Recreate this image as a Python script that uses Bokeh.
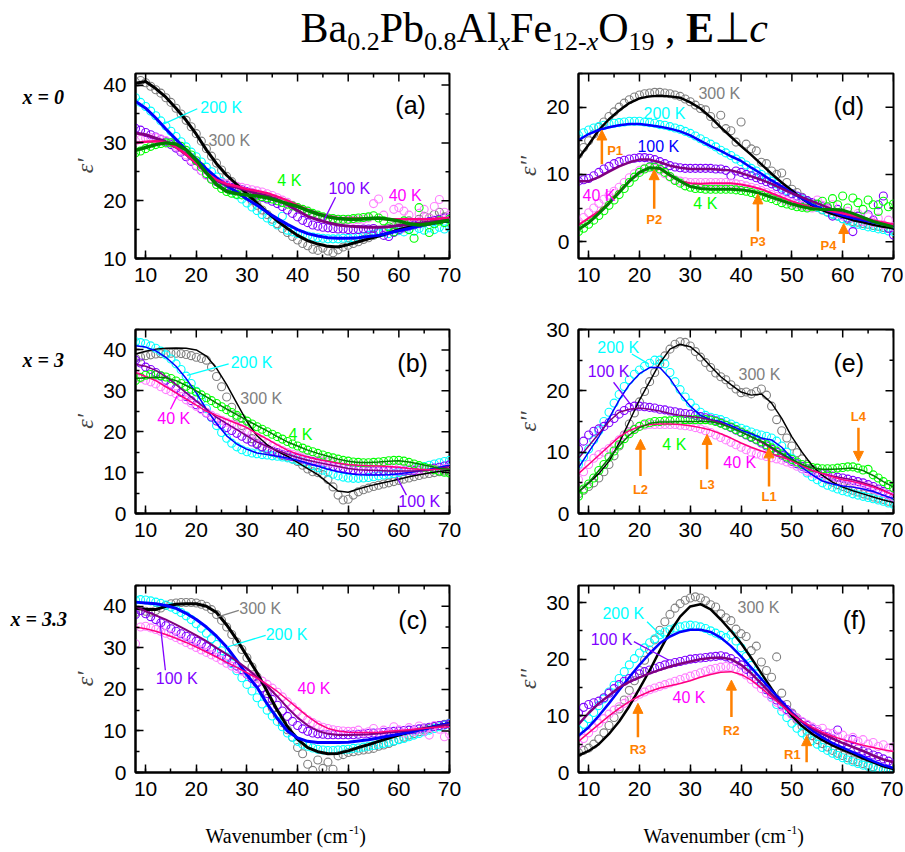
import math
from bokeh.plotting import figure
from bokeh.layouts import column, row
from bokeh.models import Label, Arrow, NormalHead, SingleIntervalTicker, Range1d
from bokeh.embed import file_html
from bokeh.resources import INLINE

# ---------------- data (wavenumber in cm^-1) ----------------
X_DATA = [8, 9, 10, 11, 12, 13, 14, 15, 16, 17, 18, 19, 20, 21, 22, 23, 24, 25, 26, 27,
          28, 29, 30, 31, 32, 33, 34, 35, 36, 37, 38, 39, 40, 41, 42, 43, 44, 45, 46, 47,
          48, 49, 50, 51, 52, 53, 54, 55, 56, 57, 58, 59, 60, 61, 62, 63, 64, 65, 66, 67,
          68, 69, 70]
X_FIT = [8, 10, 12, 14, 16, 18, 20, 22, 24, 26, 28, 30, 32, 34, 36, 38, 40, 42, 44, 46,
         48, 50, 52, 54, 56, 58, 60, 62, 64, 66, 68, 70]
X_MAJOR = [10, 20, 30, 40, 50, 60, 70]
X_MINOR = [15, 25, 35, 45, 55, 65]

# (a) x = 0, eps'
A_300_DATA = [40.5, 40.8, 40.4, 39.8, 39.2, 38.6, 37.8, 37.0, 36.0, 35.0,
              33.9, 32.8, 31.6, 30.3, 29.0, 27.7, 26.5, 25.3, 24.2, 23.3,
              22.4, 21.6, 20.8, 20.0, 19.2, 18.4, 17.6, 16.8, 16.0, 15.2,
              14.5, 13.8, 13.2, 12.6, 12.2, 11.6, 11.4, 11.8, 11.3, 11.0,
              11.5, 12.0, 12.3, 12.6, 12.9, 13.3, 13.6, 14.0, 14.5, 14.8,
              15.2, 15.5, 15.3, 16.0, 16.5, 16.2, 16.8, 17.3, 17.0, 17.6,
              18.0, 17.2, 17.5]
A_200_DATA = [37.8, 37.0, 36.3, 35.5, 34.7, 33.8, 32.9, 32.0, 31.1, 30.2,
              29.3, 28.4, 27.6, 26.7, 25.8, 25.0, 24.1, 23.3, 22.5, 21.8,
              21.0, 20.3, 19.6, 18.9, 18.3, 17.6, 17.0, 16.4, 15.8, 17.3,
              14.9, 14.6, 14.3, 14.1, 13.9, 13.7, 13.6, 13.5, 13.4, 13.4,
              13.4, 13.5, 13.5, 13.6, 13.7, 13.8, 14.0, 14.2, 14.4, 14.5,
              14.3, 14.6, 14.8, 14.6, 15.0, 14.7, 15.2, 14.9, 15.3, 15.0,
              15.4, 15.1, 15.5]
A_100_DATA = [32.5, 32.2, 31.8, 31.4, 31.0, 30.6, 30.2, 29.7, 29.1, 28.4,
              27.6, 26.8, 26.0, 25.2, 24.5, 23.8, 23.3, 22.9, 22.6, 22.3,
              22.1, 21.9, 21.6, 21.3, 21.0, 20.6, 20.3, 19.9, 19.5, 19.0,
              18.4, 17.8, 17.2, 16.6, 16.2, 15.8, 15.6, 15.4, 15.3, 15.2,
              15.1, 15.1, 15.0, 15.0, 15.0, 15.1, 15.1, 15.2, 14.8, 14.0,
              13.8, 14.5, 15.0, 15.3, 15.6, 15.8, 16.0, 16.2, 16.4, 16.6,
              16.8, 17.0, 17.1]
A_40_DATA = [30.3, 30.6, 30.8, 30.9, 30.9, 30.7, 30.4, 30.0, 29.4, 28.7,
             27.9, 27.0, 26.1, 25.2, 24.4, 23.8, 23.4, 23.1, 22.9, 22.7,
             22.5, 22.3, 22.1, 21.9, 21.7, 21.5, 21.2, 20.9, 20.5, 20.1,
             19.7, 19.2, 18.8, 18.4, 18.0, 17.6, 17.3, 17.1, 16.9, 16.8,
             16.7, 16.7, 16.6, 16.6, 16.7, 16.8, 17.0, 19.5, 20.3, 17.5,
             15.0, 18.5, 18.8, 18.2, 17.5, 16.0, 17.8, 18.5, 17.0, 19.0,
             20.2, 18.0, 17.5]
A_4_DATA = [28.3, 28.6, 29.0, 29.4, 29.7, 29.9, 30.0, 30.0, 29.8, 29.4,
            28.7, 27.9, 26.9, 25.8, 24.7, 23.7, 22.8, 22.1, 21.6, 21.3,
            21.1, 21.0, 20.9, 20.9, 20.8, 20.7, 20.5, 20.3, 20.0, 19.7,
            19.4, 19.1, 18.8, 18.5, 18.2, 17.8, 17.5, 17.2, 17.0, 16.9,
            16.8, 16.8, 16.8, 16.9, 17.0, 17.1, 17.2, 17.4, 17.0, 16.5,
            15.5, 14.6, 15.8, 16.5, 15.0, 13.5, 18.8, 16.2, 14.5, 16.0,
            16.5, 16.2, 16.8]
A_300_FIT = [40.3, 40.6, 39.4, 37.9, 36.0, 33.9, 31.5, 28.8, 26.4, 24.4,
             22.8, 21.2, 19.6, 18.0, 16.5, 15.2, 14.0, 13.1, 12.5, 12.1,
             12.0, 12.4, 12.9, 13.4, 13.9, 14.4, 15.0, 15.4, 15.8, 16.1, 16.3, 16.5]
A_200_FIT = [37.2, 36.0, 34.3, 32.4, 30.6, 28.8, 27.2, 25.5, 24.0, 22.6,
             21.5, 20.3, 19.2, 18.0, 16.9, 15.9, 15.0, 14.3, 13.9, 13.6,
             13.5, 13.5, 13.6, 13.8, 14.0, 14.4, 14.8, 15.2, 15.6, 16.0, 16.3, 16.6]
A_100_FIT = [31.7, 31.4, 30.8, 30.2, 29.3, 28.0, 26.5, 24.8, 23.5, 22.7,
             22.3, 21.8, 21.2, 20.8, 20.2, 19.3, 18.3, 17.3, 16.7, 16.2,
             15.8, 15.6, 15.5, 15.4, 15.4, 15.5, 15.7, 15.9, 16.1, 16.3, 16.5, 16.6]
A_40_FIT = [30.0, 30.2, 30.3, 30.1, 29.3, 28.0, 26.5, 24.8, 23.6, 22.9,
            22.5, 22.0, 21.7, 21.3, 20.7, 20.0, 19.2, 18.4, 17.8, 17.3,
            17.0, 16.9, 16.9, 16.9, 16.9, 16.8, 16.8, 16.8, 16.8, 16.8, 16.9, 17.0]
A_4_FIT = [28.7, 29.2, 29.7, 30.0, 29.8, 28.8, 27.0, 24.8, 22.8, 21.6,
           21.2, 21.0, 20.8, 20.5, 20.0, 19.5, 19.0, 18.3, 17.7, 17.2,
           16.9, 16.8, 16.8, 16.9, 17.0, 16.8, 16.5, 16.0, 15.8, 16.0, 16.3, 16.6]
A_Y_MAJOR = [10, 20, 30, 40]
A_Y_MINOR = [15, 25, 35]

# (d) x = 0, eps''
D_300_DATA = [13.0, 14.0, 15.0, 16.0, 17.0, 17.8, 18.6, 19.3, 20.0, 20.6,
              21.1, 21.5, 21.8, 22.0, 22.1, 22.2, 22.2, 22.1, 22.0, 21.8,
              21.6, 21.2, 20.8, 20.3, 19.8, 19.6, 18.6, 17.5, 18.8, 16.8,
              16.5, 14.8, 17.8, 14.5, 13.8, 13.5, 11.8, 11.6, 10.5, 10.0,
              10.2, 8.8, 7.8, 7.3, 6.6, 6.1, 5.6, 5.1, 4.7, 4.4,
              4.1, 3.8, 3.4, 3.3, 3.0, 2.9, 2.7, 2.6, 2.4, 2.3,
              2.1, 2.0, 1.9]
D_200_DATA = [15.8, 16.2, 16.6, 16.9, 17.1, 17.3, 17.5, 17.6, 17.7, 17.8,
              17.9, 17.9, 17.9, 17.8, 17.7, 17.6, 17.4, 17.3, 17.1, 16.9,
              16.7, 16.4, 16.1, 15.7, 15.3, 14.9, 14.5, 14.1, 13.6, 13.2,
              12.8, 12.3, 11.9, 11.4, 10.9, 10.5, 10.0, 9.5, 9.0, 8.6,
              8.1, 7.6, 7.1, 6.7, 6.3, 5.9, 5.5, 5.1, 4.8, 4.4,
              4.1, 3.8, 3.4, 3.1, 2.8, 2.6, 2.4, 2.2, 2.1, 1.9,
              1.8, 1.6, 1.5]
D_100_DATA = [9.0, 9.2, 9.4, 9.8, 10.3, 10.8, 11.2, 11.6, 11.9, 12.1,
              12.3, 12.4, 12.5, 12.5, 12.4, 12.2, 11.9, 11.6, 11.3, 11.1,
              11.0, 10.9, 10.9, 10.9, 10.9, 10.9, 10.9, 10.8, 10.8, 10.6,
              9.8, 10.5, 10.3, 10.0, 9.8, 9.5, 9.2, 8.9, 8.6, 8.2,
              7.8, 7.4, 7.1, 6.8, 6.5, 6.1, 5.8, 5.5, 5.2, 5.0,
              3.8, 4.8, 4.0, 3.5, 1.5, 3.8, 3.0, 4.0, 3.2, 5.5,
              6.8, 2.0, 1.0]
D_40_DATA = [3.0, 3.6, 4.3, 5.0, 5.7, 6.3, 6.9, 7.5, 8.1, 8.8,
             9.5, 10.1, 10.6, 10.9, 11.0, 10.9, 10.6, 10.1, 9.6, 9.2,
             9.0, 8.9, 8.8, 8.8, 8.8, 8.8, 8.8, 8.8, 8.8, 8.8,
             8.7, 8.6, 8.5, 8.3, 8.1, 7.9, 7.6, 7.3, 7.0, 6.7,
             6.4, 6.1, 5.8, 5.6, 5.4, 5.2, 5.0, 6.2, 5.4, 4.8,
             5.5, 4.2, 3.8, 4.5, 3.5, 4.2, 3.0, 3.7, 2.8, 3.5,
             2.5, 3.2, 2.2]
D_4_DATA = [1.5, 2.0, 2.6, 3.2, 3.9, 4.6, 5.4, 6.2, 7.0, 7.9,
            8.8, 9.6, 10.3, 10.8, 11.1, 11.1, 10.8, 10.3, 9.7, 9.1,
            8.7, 8.3, 8.1, 7.9, 7.9, 7.8, 7.8, 7.8, 7.8, 7.8,
            7.8, 7.7, 7.6, 7.5, 7.3, 7.1, 6.9, 6.6, 6.4, 6.1,
            5.8, 5.6, 5.4, 5.2, 5.1, 5.0, 5.2, 5.6, 6.0, 5.2,
            6.4, 5.5, 6.8, 5.0, 6.5, 5.8, 4.8, 6.2, 5.5, 4.5,
            6.0, 5.2, 5.6]
D_300_FIT = [12.4, 14.4, 16.6, 18.2, 19.5, 20.6, 21.3, 21.6, 21.7, 21.6,
             21.4, 20.7, 19.8, 18.5, 17.0, 15.6, 14.2, 12.9, 11.5, 10.1,
             8.8, 7.6, 6.4, 5.4, 4.7, 4.1, 3.7, 3.2, 2.9, 2.5, 2.2, 2.0]
D_200_FIT = [15.1, 16.0, 16.6, 17.0, 17.3, 17.5, 17.5, 17.3, 17.1, 16.8,
             16.4, 15.8, 15.0, 14.2, 13.5, 12.7, 12.0, 11.0, 10.1, 9.1,
             8.2, 7.3, 6.4, 5.5, 4.9, 4.4, 3.9, 3.5, 3.2, 2.9, 2.6, 2.3]
D_100_FIT = [9.0, 9.0, 9.6, 10.4, 11.2, 11.8, 12.2, 12.2, 11.8, 11.3,
             11.0, 10.8, 10.8, 10.8, 10.7, 10.6, 10.2, 9.7, 9.2, 8.6,
             7.9, 7.2, 6.6, 6.0, 5.4, 4.8, 4.3, 3.8, 3.4, 3.0, 2.6, 2.3]
D_40_FIT = [2.5, 3.5, 4.5, 5.8, 7.5, 9.0, 10.3, 11.0, 10.8, 9.8,
            9.0, 8.7, 8.6, 8.7, 8.7, 8.7, 8.5, 8.2, 7.8, 7.2,
            6.6, 6.0, 5.5, 5.1, 4.8, 4.5, 4.2, 3.9, 3.6, 3.2, 2.9, 2.6]
D_4_FIT = [1.8, 2.8, 4.2, 5.7, 7.3, 9.0, 10.3, 11.0, 10.9, 9.9,
           9.0, 8.2, 7.9, 7.8, 7.8, 7.8, 7.7, 7.5, 7.1, 6.6,
           6.1, 5.6, 5.2, 4.9, 4.8, 4.8, 4.7, 4.2, 3.6, 3.0, 2.6, 2.2]
D_Y_MAJOR = [0, 10, 20]
D_Y_MINOR = [5, 15]

# (b) x = 3, eps'
B_300_DATA = [38.0, 38.3, 38.6, 38.8, 39.0, 39.1, 39.2, 39.2, 39.2, 39.1,
              38.9, 38.6, 38.2, 37.9, 37.5, 35.8, 33.5, 31.0, 28.5, 26.0,
              23.6, 21.5, 19.8, 18.3, 17.1, 16.2, 15.5, 15.0, 14.6, 14.2,
              13.8, 13.3, 12.7, 11.8, 10.9, 10.2, 10.0, 9.5, 8.3, 6.5,
              4.5, 3.3, 3.5, 4.5, 5.3, 5.8, 6.2, 6.6, 6.9, 7.2,
              7.5, 7.8, 8.1, 8.4, 8.7, 9.0, 9.3, 9.6, 9.8, 10.0,
              10.2, 10.4, 10.5]
B_200_DATA = [42.0, 41.8, 41.5, 41.0, 40.4, 39.7, 38.8, 37.8, 36.6, 35.2,
              33.6, 31.8, 29.9, 27.8, 25.6, 23.5, 21.5, 19.8, 18.4, 17.2,
              16.3, 15.6, 15.1, 14.8, 14.6, 14.4, 14.3, 14.1, 14.0, 13.8,
              13.6, 13.3, 13.0, 12.6, 12.2, 11.7, 11.2, 10.6, 10.1, 9.6,
              9.2, 8.9, 8.7, 8.6, 8.6, 8.7, 8.8, 9.0, 9.2, 9.4,
              9.6, 9.8, 10.0, 10.3, 10.6, 10.9, 11.2, 11.5, 11.8, 12.1,
              12.4, 12.7, 13.0]
B_100_DATA = [37.5, 36.8, 35.8, 35.2, 34.5, 33.6, 32.6, 31.6, 30.6, 29.6,
              28.6, 27.6, 26.6, 25.6, 24.6, 23.6, 22.6, 21.8, 21.0, 20.3,
              19.6, 18.9, 18.2, 17.5, 16.9, 16.3, 15.8, 15.3, 14.9, 14.5,
              14.2, 13.9, 13.6, 13.3, 13.0, 12.7, 12.4, 12.1, 11.8, 11.5,
              11.3, 11.1, 10.9, 10.7, 10.6, 10.5, 10.4, 10.4, 10.4, 10.4,
              10.4, 10.4, 10.4, 10.4, 10.5, 10.5, 10.6, 10.7, 10.9, 11.1,
              11.3, 11.6, 11.9]
B_40_DATA = [34.0, 33.0, 32.6, 32.2, 31.7, 31.0, 30.3, 29.8, 29.3, 28.6,
             27.8, 27.0, 26.2, 25.4, 24.7, 24.0, 23.4, 22.8, 22.3, 21.8,
             21.3, 20.7, 20.1, 19.4, 18.7, 18.0, 17.3, 16.6, 16.0, 15.4,
             14.9, 14.5, 14.1, 13.8, 13.5, 13.2, 13.0, 12.8, 12.6, 12.4,
             12.2, 12.0, 11.9, 11.8, 11.7, 11.6, 11.5, 11.5, 11.4, 11.4,
             11.3, 11.2, 11.1, 11.0, 10.9, 10.8, 10.7, 10.7, 10.7, 10.8,
             10.9, 11.0, 11.1]
B_4_DATA = [32.5, 33.3, 33.8, 34.0, 33.9, 33.7, 33.4, 33.0, 32.4, 31.8,
            31.1, 30.4, 29.7, 29.0, 28.3, 27.6, 26.9, 26.1, 25.4, 24.7,
            24.0, 23.3, 22.6, 21.9, 21.2, 20.6, 20.0, 19.4, 18.8, 18.2,
            17.6, 17.0, 16.5, 16.0, 15.5, 15.1, 14.7, 14.3, 13.9, 13.6,
            13.3, 13.0, 12.8, 12.6, 12.5, 12.4, 12.4, 12.5, 12.6, 12.7,
            12.9, 13.0, 13.0, 12.8, 12.5, 12.1, 11.7, 11.3, 11.0, 10.7,
            10.4, 10.1, 9.9]
B_300_FIT = [39.0, 39.7, 40.2, 40.4, 40.5, 40.4, 40.0, 38.5, 35.5, 31.5,
             27.0, 22.5, 19.0, 16.8, 15.2, 14.0, 12.5, 11.0, 9.5, 7.5,
             5.5, 5.2, 6.0, 6.7, 7.3, 7.8, 8.4, 9.0, 9.5, 9.9, 10.3, 10.6]
B_200_FIT = [41.0, 40.7, 39.8, 38.2, 36.0, 33.0, 29.5, 25.5, 22.0, 19.0,
             17.0, 15.7, 14.8, 14.4, 14.0, 13.6, 13.0, 12.3, 11.6, 10.8,
             10.2, 9.8, 9.5, 9.4, 9.4, 9.5, 9.7, 10.0, 10.4, 10.8, 11.3, 11.8]
B_100_FIT = [36.5, 36.0, 35.0, 33.5, 31.5, 29.5, 27.5, 25.5, 23.5, 22.0,
             20.5, 19.0, 17.5, 16.4, 15.4, 14.5, 13.7, 13.0, 12.5, 12.0,
             11.5, 11.0, 10.7, 10.6, 10.5, 10.4, 10.4, 10.4, 10.4, 10.6, 11.0, 11.5]
B_40_FIT = [34.5, 33.5, 32.5, 31.0, 29.5, 28.0, 26.5, 25.0, 24.0, 23.0,
            22.0, 21.0, 19.5, 18.2, 16.8, 15.5, 14.5, 13.8, 13.2, 12.8,
            12.3, 12.0, 11.8, 11.7, 11.6, 11.5, 11.3, 11.0, 10.8, 10.7, 10.8, 11.0]
B_4_FIT = [33.0, 33.2, 33.3, 33.2, 32.5, 31.3, 30.0, 28.5, 27.0, 25.5,
           24.2, 22.8, 21.5, 20.2, 18.8, 17.5, 16.5, 15.5, 14.7, 14.0,
           13.3, 12.8, 12.5, 12.5, 12.6, 12.8, 12.9, 12.6, 12.1, 11.6, 11.0, 10.8]
B_Y_MAJOR = [0, 10, 20, 30, 40]
B_Y_MINOR = [5, 15, 25, 35]

# (e) x = 3, eps''
E_300_DATA = [3.2, 3.8, 4.4, 5.0, 5.8, 6.8, 8.0, 9.4, 11.0, 12.8,
              14.6, 16.4, 18.2, 19.9, 21.5, 23.0, 24.4, 25.7, 26.8, 27.6,
              28.0, 27.9, 27.3, 26.4, 25.5, 24.6, 23.8, 22.9, 22.3, 21.8,
              21.0, 20.3, 19.7, 19.8, 19.5, 19.9, 20.3, 19.3, 17.5, 15.3,
              13.5, 12.3, 11.0, 9.9, 8.9, 8.0, 7.2, 6.6, 6.0, 5.5,
              5.1, 4.7, 4.4, 4.1, 3.8, 3.5, 3.2, 3.0, 2.7, 2.5,
              2.3, 2.0, 1.8]
E_200_DATA = [8.0, 9.2, 10.5, 12.0, 13.5, 15.0, 16.5, 18.0, 19.4, 20.7,
              21.8, 22.7, 23.4, 24.0, 24.5, 25.0, 25.0, 24.4, 23.0, 21.5,
              20.2, 19.0, 18.0, 17.2, 16.5, 16.0, 15.7, 15.5, 15.3, 15.0,
              14.6, 14.2, 13.9, 13.6, 13.3, 13.0, 12.8, 12.6, 12.3, 11.8,
              11.0, 10.0, 9.0, 8.1, 7.3, 6.6, 6.0, 5.5, 5.0, 4.6,
              4.3, 4.0, 3.7, 3.5, 3.2, 3.0, 2.8, 2.6, 2.4, 2.2,
              2.0, 1.7, 1.5]
E_100_DATA = [10.5, 11.8, 12.8, 13.4, 13.8, 14.2, 14.8, 15.5, 16.2, 16.8,
              17.3, 17.5, 17.5, 17.4, 17.3, 17.2, 17.0, 16.9, 16.7, 16.6,
              16.4, 16.3, 16.2, 16.0, 15.8, 15.6, 15.4, 15.1, 14.8, 14.4,
              14.0, 13.6, 13.2, 12.8, 12.4, 12.0, 11.5, 11.0, 10.5, 10.0,
              9.5, 9.0, 8.5, 8.1, 7.7, 7.3, 7.0, 6.7, 6.5, 6.3,
              6.1, 5.9, 5.8, 5.6, 5.4, 5.2, 5.0, 4.7, 4.4, 4.0,
              3.6, 3.1, 2.6]
E_40_DATA = [5.5, 6.8, 8.0, 9.0, 9.6, 10.0, 10.6, 11.3, 12.0, 12.7,
             13.3, 13.8, 14.2, 14.4, 14.5, 14.5, 14.5, 14.5, 14.5, 14.5,
             14.4, 14.3, 14.2, 14.0, 13.8, 13.5, 13.2, 12.8, 12.4, 12.0,
             11.6, 11.2, 10.8, 10.4, 10.0, 9.7, 9.5, 9.3, 9.1, 8.9,
             8.7, 8.4, 8.1, 7.7, 7.3, 6.9, 6.6, 6.3, 6.0, 5.8,
             5.6, 5.4, 5.2, 5.0, 4.9, 4.7, 4.5, 4.3, 4.0, 3.7,
             3.4, 3.0, 2.7]
E_4_DATA = [2.8, 4.0, 4.8, 5.8, 7.0, 8.0, 9.2, 10.2, 11.2, 12.2,
            13.0, 13.7, 14.2, 14.6, 14.8, 15.0, 15.0, 15.1, 15.1, 15.2,
            15.2, 15.3, 15.3, 15.3, 15.3, 15.3, 15.2, 15.0, 14.7, 14.4,
            14.1, 13.7, 13.3, 12.9, 12.5, 12.1, 11.7, 11.2, 10.7, 10.2,
            9.7, 9.2, 8.8, 8.4, 8.0, 7.7, 7.5, 7.4, 7.3, 7.3,
            7.3, 7.4, 7.5, 7.6, 7.6, 7.4, 7.1, 7.2, 6.3, 5.8,
            5.2, 4.7, 4.2]
E_300_FIT = [3.5, 5.0, 6.5, 8.5, 11.5, 15.0, 18.5, 21.5, 24.5, 26.8,
             27.6, 27.2, 25.8, 24.0, 22.3, 21.0, 19.8, 19.3, 19.5, 18.0,
             15.5, 12.5, 10.0, 7.8, 6.2, 5.1, 4.3, 3.7, 3.2, 2.7, 2.2, 1.8]
E_200_FIT = [7.5, 10.0, 12.5, 15.5, 18.5, 21.0, 22.8, 23.8, 23.8, 22.0,
             19.5, 17.5, 16.0, 15.3, 15.0, 14.3, 13.6, 13.0, 12.3, 12.0,
             10.8, 9.0, 7.5, 6.3, 5.3, 4.8, 4.5, 4.3, 4.0, 3.6, 3.0, 2.4]
E_100_FIT = [9.0, 11.0, 13.0, 15.0, 16.5, 17.0, 17.2, 17.0, 16.7, 16.3,
             16.0, 15.8, 15.6, 15.3, 14.8, 14.0, 13.3, 12.5, 11.6, 10.6,
             9.6, 8.6, 7.8, 7.0, 6.5, 6.1, 5.8, 5.5, 5.0, 4.5, 3.8, 3.0]
E_40_FIT = [6.5, 8.0, 9.5, 11.0, 12.5, 13.5, 14.2, 14.5, 14.6, 14.6,
            14.5, 14.3, 14.0, 13.6, 13.0, 12.3, 11.5, 10.8, 10.2, 9.7,
            9.2, 8.6, 7.8, 7.0, 6.5, 6.0, 5.5, 5.2, 4.8, 4.3, 3.7, 3.0]
E_4_FIT = [3.5, 5.0, 7.0, 9.0, 11.0, 12.8, 14.0, 14.7, 14.9, 14.9,
           15.0, 15.0, 15.0, 15.0, 14.6, 14.0, 13.3, 12.5, 11.8, 10.8,
           9.8, 8.8, 8.0, 7.4, 7.2, 7.2, 7.3, 7.4, 7.0, 6.2, 5.2, 4.3]
E_Y_MAJOR = [0, 10, 20, 30]
E_Y_MINOR = [5, 15, 25]

# (c) x = 3.3, eps'
C_300_DATA = [38.5, 39.0, 38.8, 38.6, 39.0, 39.6, 40.2, 40.6, 40.8, 40.9,
              40.9, 40.9, 40.8, 40.5, 40.0, 39.2, 38.0, 36.6, 35.0, 33.2,
              31.4, 29.6, 27.6, 25.4, 23.0, 20.4, 17.8, 15.5, 13.8, 12.0,
              10.3, 8.5, 6.0, 4.5, 2.0, 0.5, 3.0, 1.0, 2.5, 0.8,
              4.0, 4.3, 4.8, 5.0, 5.2, 5.4, 5.6, 5.8, 6.3, 6.6,
              7.0, 7.5, 8.0, 8.5, 9.0, 9.4, 9.8, 10.2, 10.6, 11.0,
              11.3, 11.6, 11.9]
C_200_DATA = [41.5, 41.6, 41.5, 41.3, 41.0, 40.7, 40.3, 39.8, 39.2, 38.5,
              37.7, 36.8, 35.8, 34.7, 33.5, 32.2, 30.8, 29.3, 27.8, 26.2,
              24.5, 22.8, 21.2, 19.6, 18.0, 16.5, 15.0, 13.6, 12.3, 11.0,
              9.5, 8.5, 7.5, 6.8, 6.3, 5.9, 5.6, 5.4, 5.3, 5.3,
              5.4, 5.5, 5.6, 5.8, 5.9, 6.1, 6.3, 6.5, 6.8, 7.0,
              7.3, 7.6, 7.9, 8.2, 8.6, 9.0, 9.4, 9.8, 10.2, 10.6,
              11.0, 11.4, 11.8]
C_100_DATA = [38.0, 39.0, 38.2, 37.5, 36.8, 36.0, 35.3, 34.6, 34.0, 33.4,
              32.8, 32.2, 31.6, 31.0, 30.3, 29.6, 28.9, 28.1, 27.3, 26.5,
              25.6, 24.7, 23.7, 22.6, 21.5, 20.3, 19.0, 17.6, 16.2, 14.8,
              13.5, 12.3, 11.3, 10.5, 9.9, 9.5, 9.3, 9.2, 9.1, 9.1,
              9.1, 9.1, 9.1, 9.1, 9.2, 9.3, 9.4, 9.5, 9.6, 9.7,
              9.8, 9.9, 10.0, 10.1, 10.2, 10.3, 10.5, 10.7, 10.9, 11.1,
              11.3, 11.5, 11.7]
C_40_DATA = [31.0, 35.0, 35.2, 34.8, 34.4, 34.0, 33.5, 33.0, 32.5, 31.9,
             31.3, 30.7, 30.1, 29.5, 28.9, 28.3, 27.7, 27.0, 26.3, 25.6,
             25.0, 24.4, 23.8, 23.2, 22.6, 22.0, 21.2, 20.3, 19.3, 18.2,
             17.0, 15.8, 14.7, 13.6, 12.7, 12.0, 11.4, 10.9, 10.6, 10.3,
             10.1, 10.0, 9.9, 9.9, 10.2, 9.5, 9.8, 10.6, 9.6, 10.2,
             9.4, 11.0, 10.3, 9.5, 10.8, 9.8, 11.2, 10.0, 9.0, 11.3,
             10.4, 8.6, 9.2]
C_300_FIT = [39.5, 39.2, 39.2, 40.0, 40.5, 40.6, 40.6, 40.0, 38.5, 35.5,
             32.0, 28.0, 24.0, 19.5, 15.0, 11.0, 8.0, 6.0, 5.0, 4.5,
             4.6, 5.2, 6.0, 6.7, 7.5, 8.3, 9.0, 9.7, 10.3, 10.8, 11.3, 11.8]
C_200_FIT = [41.0, 40.8, 40.6, 40.2, 39.5, 38.3, 36.8, 35.0, 32.8, 30.2,
             27.0, 23.5, 20.5, 16.5, 13.0, 10.0, 8.3, 7.5, 7.2, 7.2,
             7.2, 7.3, 7.6, 7.9, 8.3, 8.8, 9.2, 9.7, 10.2, 10.7, 11.3, 11.8]
C_100_FIT = [40.0, 38.8, 37.8, 36.8, 35.6, 34.3, 33.0, 31.6, 30.0, 28.5,
             26.8, 25.0, 23.0, 20.8, 18.3, 15.6, 13.2, 11.3, 10.0, 9.3,
             9.0, 9.0, 9.1, 9.2, 9.4, 9.6, 9.8, 10.1, 10.4, 10.8, 11.2, 11.6]
C_40_FIT = [35.0, 34.6, 34.0, 33.2, 32.3, 31.3, 30.2, 29.0, 27.8, 26.5,
            25.3, 24.0, 22.7, 21.2, 19.5, 17.5, 15.5, 13.5, 11.8, 10.6,
            10.0, 9.7, 9.6, 9.6, 9.7, 9.9, 10.1, 10.3, 10.5, 10.7, 10.9, 11.0]
C_Y_MAJOR = [0, 10, 20, 30, 40]
C_Y_MINOR = [5, 15, 25, 35]

# (f) x = 3.3, eps''
F_300_DATA = [3.5, 3.9, 4.3, 5.0, 5.9, 7.0, 8.3, 9.7, 11.2, 12.8,
              14.5, 16.2, 18.0, 19.8, 21.6, 23.4, 25.1, 26.6, 27.9, 29.0,
              29.8, 30.4, 30.8, 31.0, 30.8, 30.3, 29.6, 29.2, 28.0, 27.3,
              26.8, 25.3, 24.5, 24.0, 21.5, 22.3, 19.5, 18.0, 16.8, 20.4,
              14.0, 12.0, 10.5, 9.3, 8.2, 7.3, 6.5, 5.8, 5.1, 4.5,
              3.9, 3.4, 3.0, 2.6, 2.2, 1.9, 1.6, 1.3, 1.0, 0.7,
              0.5, 0.3, 0.2]
F_200_DATA = [7.5, 8.5, 9.5, 10.6, 11.8, 13.0, 14.2, 15.4, 16.6, 17.8,
              19.0, 20.1, 21.1, 22.0, 22.9, 23.6, 24.3, 24.8, 25.2, 25.5,
              25.7, 25.9, 26.0, 25.9, 25.7, 25.4, 25.0, 24.6, 24.2, 23.8,
              24.3, 23.2, 22.0, 20.5, 18.9, 17.4, 16.0, 14.6, 13.3, 12.0,
              10.8, 9.7, 8.7, 7.8, 7.0, 6.3, 5.6, 5.0, 4.4, 3.9,
              3.4, 3.0, 2.6, 2.2, 1.9, 1.6, 1.3, 1.1, 0.9, 0.7,
              0.5, 0.4, 0.3]
F_100_DATA = [10.5, 11.5, 12.0, 12.3, 12.6, 13.2, 14.0, 14.8, 15.5, 16.1,
              16.6, 17.0, 17.4, 17.8, 18.1, 18.4, 18.7, 19.0, 19.2, 19.4,
              19.6, 19.8, 20.0, 20.1, 20.2, 20.3, 20.4, 20.5, 20.6, 20.4,
              20.1, 19.6, 19.0, 18.2, 17.4, 16.5, 15.6, 14.6, 13.7, 12.8,
              11.9, 11.1, 10.3, 9.6, 8.9, 8.3, 7.7, 7.2, 6.7, 6.3,
              5.9, 7.5, 5.2, 4.8, 5.8, 4.2, 3.8, 3.5, 3.1, 2.8,
              2.4, 2.0, 1.5]
F_40_DATA = [5.0, 6.0, 7.0, 7.9, 8.7, 9.5, 10.3, 11.0, 11.6, 12.2,
             12.8, 13.3, 13.8, 14.2, 14.6, 14.9, 15.2, 15.5, 15.8, 16.1,
             16.4, 16.7, 17.0, 17.3, 17.6, 17.9, 18.2, 18.4, 18.6, 18.7,
             18.6, 18.3, 17.8, 17.2, 16.4, 15.6, 14.8, 14.0, 13.2, 12.4,
             11.6, 10.9, 10.2, 9.6, 9.0, 8.5, 8.0, 7.6, 7.8, 7.0,
             6.9, 6.4, 6.6, 5.9, 6.2, 5.5, 5.8, 5.0, 5.3, 4.6,
             4.9, 4.3, 4.5]
F_300_FIT = [3.0, 3.8, 5.0, 6.8, 9.0, 11.7, 14.8, 18.0, 21.5, 24.8,
             27.5, 29.3, 29.7, 28.8, 27.0, 25.0, 22.8, 20.2, 17.5, 14.8,
             12.2, 10.0, 8.2, 6.8, 5.7, 4.8, 4.0, 3.3, 2.5, 1.8, 1.1, 0.6]
F_200_FIT = [6.5, 8.0, 10.0, 12.2, 14.5, 16.8, 19.0, 21.0, 22.8, 24.0,
             24.8, 25.2, 25.2, 24.8, 23.8, 22.3, 20.5, 18.5, 16.5, 14.5,
             12.5, 10.6, 8.9, 7.4, 6.2, 5.2, 4.4, 3.6, 2.8, 2.0, 1.3, 0.8]
F_100_FIT = [8.5, 10.5, 12.2, 13.6, 15.0, 16.0, 16.8, 17.5, 18.1, 18.7,
             19.2, 19.6, 20.0, 20.2, 20.3, 20.0, 19.0, 17.5, 15.7, 13.8,
             12.0, 10.4, 9.0, 7.8, 6.8, 6.0, 5.2, 4.5, 3.8, 3.0, 2.3, 1.8]
F_40_FIT = [5.5, 7.0, 8.5, 10.0, 11.3, 12.5, 13.5, 14.3, 14.9, 15.3,
            15.7, 16.2, 16.8, 17.3, 17.7, 17.8, 17.3, 16.3, 14.9, 13.3,
            11.8, 10.3, 9.0, 8.0, 7.1, 6.4, 5.8, 5.3, 4.8, 4.4, 4.0, 3.7]
F_Y_MAJOR = [0, 10, 20, 30]
F_Y_MINOR = [5, 15, 25]

# ---------------- styles ----------------
SC = {"300": "#808080", "200": "#00FFFF", "100": "#8000FF", "40": "#FF80FF", "4": "#00FF00"}
LC = {"300": "#000000", "200": "#0000FF", "100": "#800080", "40": "#FF0080", "4": "#008000"}
TC = {"300": "#808080", "200": "#00FFFF", "100": "#8000FF", "40": "#FF00FF", "4": "#00FF00"}
ORANGE = "#FF8000"
SANS = "Liberation Sans"
SERIF = "Liberation Serif"

STRIP_W = 68
COLS = [dict(width=432, left=67, right=51), dict(width=403, left=78, right=10)]
ROWS = [dict(height=240, top=13, bottom=42), dict(height=255, top=29, bottom=42),
        dict(height=260, top=30, bottom=43)]


def style_axis(ax, standoff):
    ax.ticker = SingleIntervalTicker(interval=10, num_minor_ticks=2)
    ax.axis_line_width = 2
    ax.axis_line_color = "black"
    ax.major_tick_in = 8
    ax.major_tick_out = 0
    ax.minor_tick_in = 4
    ax.minor_tick_out = 0
    ax.major_tick_line_width = 1.5
    ax.minor_tick_line_width = 1.5
    ax.major_tick_line_color = "black"
    ax.minor_tick_line_color = "black"
    ax.major_label_text_font = SANS
    ax.major_label_text_color = "black"
    ax.major_label_text_font_size = "21px"
    ax.major_label_standoff = standoff


def make_panel(ci, ri, yr, ylabel, series, widths, y_major, y_minor):
    c = COLS[ci]
    r = ROWS[ri]
    p = figure(width=c["width"], height=r["height"], x_range=Range1d(8, 70), y_range=Range1d(*yr),
               output_backend="svg", toolbar_location=None,
               min_border_left=c["left"], min_border_right=c["right"],
               min_border_top=r["top"], min_border_bottom=r["bottom"])
    p.grid.visible = False
    p.outline_line_color = "black"
    p.outline_line_width = 2
    p.background_fill_color = "white"
    p.border_fill_color = "white"
    style_axis(p.xaxis[0], 9)
    style_axis(p.yaxis[0], 9)
    p.yaxis[0].axis_label = ylabel
    p.yaxis[0].axis_label_text_font = SERIF
    p.yaxis[0].axis_label_text_font_style = "italic"
    p.yaxis[0].axis_label_text_font_size = "24px"
    p.yaxis[0].axis_label_standoff = 2
    for key, data, fit in series:
        assert len(data) == len(X_DATA), key
        p.scatter(x=X_DATA, y=data, marker="circle", size=8, fill_color=None,
                  line_color=SC[key], line_width=1.1)
    for key, data, fit in series:
        assert len(fit) == len(X_FIT), key
        p.line(x=X_FIT, y=fit, line_color=LC[key], line_width=widths[key])
    # inward ticks mirrored on the top and right edges (half of each dash is clipped by the frame)
    ytop, xright = yr[1], 70
    p.scatter(x=X_MAJOR, y=[ytop] * len(X_MAJOR), marker="dash", angle=math.pi / 2, size=16,
              line_color="black", line_width=1.5)
    p.scatter(x=X_MINOR, y=[ytop] * len(X_MINOR), marker="dash", angle=math.pi / 2, size=8,
              line_color="black", line_width=1.5)
    p.scatter(x=[xright] * len(y_major), y=y_major, marker="dash", size=16,
              line_color="black", line_width=1.5)
    p.scatter(x=[xright] * len(y_minor), y=y_minor, marker="dash", size=8,
              line_color="black", line_width=1.5)
    return p


def add_text(p, x, y, text, color, size="16px", align="left", style="normal", font=SANS,
             baseline="middle"):
    p.add_layout(Label(x=x, y=y, text=text, text_color=color, text_font=font,
                       text_font_size=size, text_align=align, text_baseline=baseline,
                       text_font_style=style))


def add_temp_labels(p, items, colors=None):
    for text, x, y, key in items:
        col = TC[key] if colors is None or key not in colors else colors[key]
        add_text(p, x, y, text, col)


def add_leaders(p, items):
    for (x0, y0), (x1, y1), key in items:
        p.segment(x0=[x0], y0=[y0], x1=[x1], y1=[y1], line_color=TC[key], line_width=1.3)


def add_arrows(p, items):
    for name, x, y0, y1, tx, ty in items:
        p.add_layout(Arrow(end=NormalHead(size=10, fill_color=ORANGE, line_color=ORANGE, line_width=1),
                           x_start=x, y_start=y0, x_end=x, y_end=y1,
                           line_color=ORANGE, line_width=2.5))
        add_text(p, tx, ty, name, ORANGE, "13px", "center", "bold")


def text_strip(width, height):
    f = figure(width=width, height=height, x_range=Range1d(0, width), y_range=Range1d(0, height),
               output_backend="svg", toolbar_location=None, min_border=0,
               x_axis_location=None, y_axis_location=None)
    f.grid.visible = False
    f.outline_line_color = None
    f.border_fill_color = "white"
    f.background_fill_color = "white"
    return f


# ---------------- panels ----------------
pa = make_panel(0, 0, (10, 42), "ε'",
                [("300", A_300_DATA, A_300_FIT), ("200", A_200_DATA, A_200_FIT),
                 ("100", A_100_DATA, A_100_FIT), ("40", A_40_DATA, A_40_FIT),
                 ("4", A_4_DATA, A_4_FIT)],
                {"300": 3, "200": 3, "100": 3, "40": 2.5, "4": 3.5}, A_Y_MAJOR, A_Y_MINOR)
add_leaders(pa, [((20.2, 35.9), (13.6, 33.3), "200"), ((47.5, 20.6), (45.2, 16.6), "100")])
add_temp_labels(pa, [("200 K", 20.8, 36.2, "200"), ("300 K", 22.4, 30.4, "300"),
                     ("4 K", 36.0, 23.5, "4"), ("100 K", 46.1, 22.1, "100"),
                     ("40 K", 58.0, 20.9, "40")])
add_text(pa, 59.3, 36.5, "(a)", "black", "25px")

pd = make_panel(1, 0, (-2.5, 25), "ε''",
                [("300", D_300_DATA, D_300_FIT), ("200", D_200_DATA, D_200_FIT),
                 ("100", D_100_DATA, D_100_FIT), ("40", D_40_DATA, D_40_FIT),
                 ("4", D_4_DATA, D_4_FIT)],
                {"300": 2.5, "200": 2.5, "100": 2.5, "40": 2, "4": 3}, D_Y_MAJOR, D_Y_MINOR)
add_temp_labels(pd, [("300 K", 31.6, 22.1, "300"), ("200 K", 20.8, 19.1, "200"),
                     ("100 K", 19.6, 14.2, "100"), ("40 K", 8.8, 6.9, "40"),
                     ("4 K", 30.6, 5.7, "4")], colors={"100": "#0000FF"})
add_text(pd, 58.2, 20.2, "(d)", "black", "25px")
add_arrows(pd, [("P1", 12.6, 11.5, 16.6, 15.2, 13.6), ("P2", 22.9, 4.9, 10.7, 22.9, 3.3),
                ("P3", 43.3, 1.5, 7.1, 43.3, 0.0), ("P4", 60.2, -0.2, 2.7, 57.2, -0.5)])

pb = make_panel(0, 1, (0, 45), "ε'",
                [("300", B_300_DATA, B_300_FIT), ("200", B_200_DATA, B_200_FIT),
                 ("100", B_100_DATA, B_100_FIT), ("40", B_40_DATA, B_40_FIT),
                 ("4", B_4_DATA, B_4_FIT)],
                {"300": 1.5, "200": 1.5, "100": 1.5, "40": 1.5, "4": 1.5}, B_Y_MAJOR, B_Y_MINOR)
add_leaders(pb, [((26.4, 36.6), (18.2, 33.8), "200"), ((14.9, 25.5), (16.2, 28.7), "40"),
                 ((61.5, 4.5), (59.6, 8.9), "100")])
add_temp_labels(pb, [("200 K", 26.8, 36.9, "200"), ("300 K", 28.7, 28.2, "300"),
                     ("40 K", 12.3, 23.3, "40"), ("4 K", 38.2, 19.2, "4"),
                     ("100 K", 59.9, 2.9, "100")])
add_text(pb, 59.7, 36.9, "(b)", "black", "25px")

pe = make_panel(1, 1, (0, 30), "ε''",
                [("300", E_300_DATA, E_300_FIT), ("200", E_200_DATA, E_200_FIT),
                 ("100", E_100_DATA, E_100_FIT), ("40", E_40_DATA, E_40_FIT),
                 ("4", E_4_DATA, E_4_FIT)],
                {"300": 1.5, "200": 1.5, "100": 1.5, "40": 1.5, "4": 1.5}, E_Y_MAJOR, E_Y_MINOR)
add_leaders(pe, [((18.5, 26.0), (21.8, 24.4), "200"), ((14.9, 21.4), (18.5, 17.5), "100")])
add_temp_labels(pe, [("200 K", 11.7, 27.0, "200"), ("100 K", 9.8, 23.1, "100"),
                     ("300 K", 39.5, 22.6, "300"), ("4 K", 24.5, 11.3, "4"),
                     ("40 K", 36.5, 8.3, "40")])
add_text(pe, 58.2, 24.5, "(e)", "black", "25px")
add_arrows(pe, [("L2", 20.2, 6.1, 12.1, 20.2, 3.9), ("L3", 33.3, 7.2, 12.9, 33.3, 4.7),
                ("L1", 45.5, 4.4, 10.7, 45.5, 2.8), ("L4", 63.1, 14.0, 8.5, 63.1, 15.8)])

pc = make_panel(0, 2, (0, 45), "ε'",
                [("300", C_300_DATA, C_300_FIT), ("200", C_200_DATA, C_200_FIT),
                 ("100", C_100_DATA, C_100_FIT), ("40", C_40_DATA, C_40_FIT)],
                {"300": 3, "200": 3, "100": 2, "40": 1.5}, C_Y_MAJOR, C_Y_MINOR)
add_leaders(pc, [((28.4, 39.0), (24.1, 37.4), "300"), ((33.7, 33.0), (26.1, 30.2), "200"),
                 ((13.9, 24.6), (12.8, 36.6), "100")])
add_temp_labels(pc, [("300 K", 28.5, 39.5, "300"), ("200 K", 33.7, 33.3, "200"),
                     ("100 K", 12.0, 22.6, "100"), ("40 K", 40.0, 20.2, "40")])
add_text(pc, 59.9, 36.7, "(c)", "black", "25px")

pf = make_panel(1, 2, (0, 33), "ε''",
                [("300", F_300_DATA, F_300_FIT), ("200", F_200_DATA, F_200_FIT),
                 ("100", F_100_DATA, F_100_FIT), ("40", F_40_DATA, F_40_FIT)],
                {"300": 2.5, "200": 2.5, "100": 2.5, "40": 1.5}, F_Y_MAJOR, F_Y_MINOR)
add_leaders(pf, [((21.5, 26.6), (24.8, 23.7), "200"), ((18.9, 23.1), (25.8, 19.8), "100")])
add_temp_labels(pf, [("300 K", 39.3, 29.1, "300"), ("200 K", 12.7, 28.0, "200"),
                     ("100 K", 10.4, 23.4, "100"), ("40 K", 26.5, 13.3, "40")])
add_text(pf, 60.0, 26.9, "(f)", "black", "25px")
add_arrows(pf, [("R3", 19.7, 6.2, 12.2, 19.7, 4.0), ("R2", 38.1, 9.8, 16.3, 38.1, 7.5),
                ("R1", 52.9, 1.8, 6.5, 50.1, 3.1)])

# ---------------- row labels (composition) ----------------
strips = []
for (text, x0, yc), r in zip([("x = 0", 22, 209), ("x = 3", 22, 213), ("x = 3.3", 10, 214)], ROWS):
    s = text_strip(STRIP_W, r["height"])
    add_text(s, x0, yc, text, "black", "20px", "left", "bold italic", SERIF)
    strips.append(s)


# ---------------- title and footer ----------------
def piece(f, x, y, text, size, style="normal"):
    f.add_layout(Label(x=x, y=y, text=text, text_font=SERIF, text_font_size=f"{size}px",
                       text_font_style=style, text_color="black", text_align="left",
                       text_baseline="alphabetic"))


title = text_strip(903, 60)
for x, y, t, s, st in [(300, 33, "Ba", 42, "normal"), (346.7, 19.5, "0.2", 26, "normal"),
                       (379.2, 33, "Pb", 42, "normal"), (423.6, 19.5, "0.8", 26, "normal"),
                       (456.1, 33, "Al", 42, "normal"), (498.1, 19.5, "x", 26, "italic"),
                       (509.6, 33, "Fe", 42, "normal"), (551.6, 19.5, "12-", 26, "normal"),
                       (586.3, 19.5, "x", 26, "italic"), (597.8, 33, "O", 42, "normal"),
                       (628.1, 19.5, "19", 26, "normal"), (664.6, 33, ",", 42, "normal"),
                       (685.6, 33, "E", 42, "bold"), (713.6, 33, "⊥", 42, "normal"),
                       (748.8, 33, "c", 42, "italic")]:
    piece(title, x, y, t, s, st)

footer = text_strip(903, 35)
for x0 in (205, 643):
    piece(footer, x0, 15, "Wavenumber (cm", 20)
    piece(footer, x0 + 143.8, 21, "-1", 12)
    piece(footer, x0 + 153.8, 15, ")", 20)

layout = column(title,
                row(strips[0], pa, pd),
                row(strips[1], pb, pe),
                row(strips[2], pc, pf),
                footer)

with open("out.html", "w") as fh:
    fh.write(file_html(layout, INLINE, title="Ba0.2Pb0.8AlxFe12-xO19 dielectric spectra"))
